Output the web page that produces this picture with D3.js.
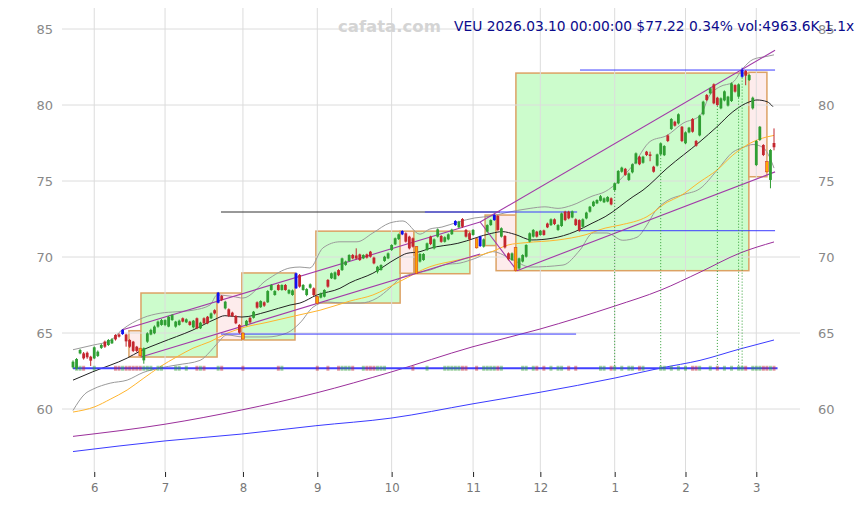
<!DOCTYPE html>
<html>
<head>
<meta charset="utf-8">
<script src="https://cdn.jsdelivr.net/npm/d3@7"></script>
<style>
  body { margin: 0; background: #fff; }
  svg { display: block; }
</style>
</head>
<body>
<div id="main"></div>
<script>
// ---- data (trading-day index 0 = first candle) ----
const open = [62.74,62.68,63.66,63.66,63.70,63.44,63.33,63.49,64.02,64.43,64.21,64.32,64.87,64.90,64.93,64.90,64.54,64.43,64.10,64.00,
63.20,64.43,64.90,64.98,65.42,65.53,65.53,65.42,65.85,65.42,65.53,65.97,65.70,65.75,65.37,65.97,65.31,65.97,66.07,65.97,
66.50,66.99,67.43,66.62,66.56,66.34,66.12,65.53,65.00,65.50,66.00,66.00,67.02,66.70,67.02,67.02,67.83,67.50,68.16,67.83,
68.16,67.60,67.50,67.94,68.82,67.83,67.50,67.98,67.94,67.39,67.33,67.39,68.49,68.60,68.55,69.14,69.14,69.48,69.74,70.13,
70.10,70.17,69.91,70.17,70.35,69.96,69.04,69.15,69.74,69.91,70.46,70.83,71.18,71.49,71.56,71.34,71.23,70.68,69.70,69.80,
70.46,71.34,70.57,71.34,71.38,71.00,71.16,71.50,72.10,71.95,72.50,71.78,71.56,71.45,71.20,70.72,70.68,71.67,72.10,72.43,
72.70,71.34,71.38,70.24,69.80,70.63,69.25,69.70,70.02,71.01,71.34,71.67,71.45,71.75,72.20,72.10,72.48,71.78,72.04,72.98,
72.98,72.60,72.48,72.43,71.99,72.54,72.98,73.35,73.53,73.70,73.60,73.65,73.86,74.41,74.85,75.61,75.80,75.07,75.57,76.16,
76.60,76.20,76.93,76.75,75.94,76.01,76.75,76.70,78.00,78.42,78.90,78.79,78.57,77.48,78.20,79.08,77.63,78.00,79.39,80.66,
80.77,81.36,80.48,79.78,80.30,79.96,80.26,81.31,80.55,81.86,82.24,81.64,79.78,76.05,77.70,77.37,76.27,75.07,77.50];
const high = [63.20,63.35,63.95,63.75,63.78,63.50,64.12,63.85,64.30,64.50,64.60,64.66,64.92,64.98,65.25,64.95,64.60,64.48,64.15,64.05,
64.05,65.05,65.28,65.50,65.82,65.92,65.90,66.12,66.25,65.80,65.88,66.02,65.96,65.80,65.86,66.02,65.74,66.03,66.12,66.35,
66.56,67.70,67.50,67.12,66.62,66.40,66.18,65.58,65.05,65.86,66.05,66.45,67.08,67.15,67.08,67.82,68.22,67.82,68.22,68.20,
68.22,67.88,67.86,68.98,68.88,68.22,67.95,68.26,68.00,67.45,67.66,67.88,68.55,68.98,69.05,69.20,69.96,69.76,70.18,70.20,
70.57,70.22,70.18,70.22,70.40,70.02,69.42,69.52,70.08,70.30,70.84,71.28,71.54,71.76,71.62,71.40,71.28,70.72,70.26,70.25,
70.95,71.40,71.22,71.88,71.44,71.36,71.55,71.86,72.42,72.38,72.56,71.84,71.62,71.84,71.26,71.40,71.22,72.15,72.48,72.82,
72.76,71.95,71.44,70.30,70.30,70.68,69.96,70.18,70.84,71.62,71.84,71.72,71.78,71.80,72.26,72.54,72.54,72.16,72.92,73.04,
73.04,73.06,72.54,72.48,72.54,72.98,73.36,73.70,73.80,74.08,73.92,74.00,73.92,74.90,75.72,75.94,75.86,75.56,76.16,76.88,
76.66,76.66,76.98,76.93,76.00,76.80,77.54,77.36,78.06,79.14,78.96,79.45,78.62,78.26,78.56,79.14,77.70,79.36,80.28,80.72,
81.16,81.42,80.54,80.50,80.96,80.60,81.48,81.36,81.42,82.45,82.30,82.02,80.55,77.70,78.62,77.42,76.32,77.10,78.46];
const low = [62.65,62.60,63.60,63.25,63.30,62.83,63.28,63.42,63.95,64.02,64.15,64.28,64.50,64.70,64.88,64.10,64.02,63.75,63.75,63.45,
62.98,64.35,64.85,64.92,65.35,65.48,65.45,65.38,65.80,65.35,65.48,65.70,65.65,65.48,65.30,65.25,65.26,65.58,65.58,65.92,
66.22,66.95,67.10,66.55,66.05,66.05,65.58,64.95,64.54,65.45,65.62,65.95,66.60,66.65,66.72,66.98,67.78,67.45,67.78,67.78,
67.78,67.55,67.45,67.90,67.98,67.78,67.42,67.92,67.42,66.90,67.28,67.34,67.98,68.55,68.50,68.74,69.08,69.42,69.68,69.85,
69.84,69.74,69.86,69.90,69.96,69.52,68.92,69.10,69.68,69.86,70.40,70.78,71.12,71.44,70.95,70.50,70.62,68.88,69.64,69.75,
70.40,70.78,70.50,71.28,70.94,70.95,71.10,71.45,72.05,71.90,71.92,71.28,71.10,71.40,70.55,70.66,70.62,71.62,72.05,72.38,
71.72,71.28,70.56,69.78,69.74,69.05,69.18,69.64,69.96,70.96,71.28,71.28,71.40,71.40,71.90,72.04,72.10,71.72,71.98,72.36,
72.48,72.55,72.04,71.66,71.94,72.48,72.92,73.30,73.48,73.65,73.55,73.60,73.40,74.35,74.80,75.55,75.34,75.00,75.50,76.10,
76.04,76.14,76.64,76.30,75.55,75.95,76.70,76.64,77.56,78.36,78.58,78.72,77.56,77.42,78.14,78.18,77.26,77.94,79.32,80.26,
80.70,80.05,79.94,79.72,80.24,79.90,80.20,80.82,80.48,81.80,81.30,81.58,79.70,75.98,77.64,76.64,75.55,74.52,77.02];
const close = [63.11,63.29,63.88,63.33,63.40,63.18,64.06,63.77,64.21,64.10,64.54,64.58,64.58,64.76,65.20,64.45,64.10,63.82,63.82,63.50,
64.00,64.98,65.20,65.42,65.75,65.85,65.85,66.07,66.18,65.75,65.81,65.75,65.90,65.53,65.81,65.31,65.68,65.64,65.64,66.29,
66.29,67.65,67.17,67.06,66.12,66.12,65.64,65.02,64.60,65.80,65.70,66.40,66.67,67.10,66.80,67.76,68.16,67.76,67.83,68.16,
67.83,67.83,67.80,68.93,68.05,68.16,67.89,68.20,67.50,66.95,67.60,67.83,68.05,68.93,68.99,68.80,69.91,69.70,70.13,69.91,
69.90,69.80,70.13,69.96,70.02,69.58,69.36,69.47,70.02,70.24,70.79,71.23,71.49,71.71,71.01,70.57,70.68,68.93,70.20,70.20,
70.90,70.85,71.16,71.82,71.00,71.30,71.49,71.80,72.37,72.32,71.99,71.34,71.16,71.78,70.60,71.34,71.16,72.10,72.43,72.76,
71.78,71.89,70.63,69.85,70.24,69.10,69.91,70.13,70.79,71.56,71.78,71.34,71.73,71.45,71.95,72.48,72.17,72.10,72.87,72.43,
72.54,73.00,72.10,71.73,72.48,72.92,73.31,73.64,73.75,74.00,73.86,73.95,73.46,74.85,75.66,75.88,75.40,75.50,76.10,76.82,
76.10,76.60,76.71,76.65,75.61,76.75,77.48,77.30,77.63,79.08,78.64,79.39,77.63,78.20,78.51,78.24,77.32,79.30,80.22,80.33,
81.10,80.11,80.00,80.44,80.90,80.55,81.42,80.88,81.36,82.30,81.93,81.97,80.48,77.63,78.57,76.71,75.60,77.04,77.22];

// candles marked blue (swing highs) and orange (swing lows)
const blueIdx = [14, 41, 63, 93, 108, 115, 119, 189];
const orangeIdx = [19, 48, 69, 97, 114, 125, 196];

// month ticks
const tickIdx = [6, 26, 48, 69, 90, 113, 132, 153, 173, 193];
const tickLabels = ['6', '7', '8', '9', '10', '11', '12', '1', '2', '3'];
const yTicks = [60, 65, 70, 75, 80, 85];

// indicator lines [index, value]
const ma20 = [[0,61.9],[5.6,62.45],[15.3,63.35],[18.9,63.8],[24.6,64.35],[33.9,65.2],[40.1,65.9],[42.9,66.14],[47.7,66.05],
  [54.8,66.4],[61.3,66.84],[64.1,66.97],[68.9,67.5],[75.4,67.94],[78.2,68.3],[84.7,68.93],[91.5,69.92],[94.3,70.24],[98,70.35],
  [100.8,70.57],[108.7,70.9],[118.3,71.56],[121.2,71.67],[124.8,71.49],[129.6,71.12],[135.3,71.23],[141.8,71.67],[146.6,72.22],
  [150.3,72.65],[158.2,73.97],[161,74.4],[167.8,75.84],[177.1,77.59],[181.9,78.57],[186.4,79.56],[191.2,80.22],[193.2,80.33],
  [196,80.22],[197.7,79.89]];
const ma60 = [[0,59.8],[6.2,60.15],[10.5,60.64],[15.3,61.25],[19.8,62.0],[24.6,62.78],[29.4,63.44],[33.9,64.0],[38.7,64.43],
  [43.5,64.98],[48,65.35],[54.8,65.7],[64.1,66.2],[69.8,66.5],[78.2,67.1],[84.7,67.5],[92.4,68.4],[100.8,69.36],[108.7,69.8],
  [118.3,70.35],[122.9,70.79],[127.7,70.94],[137,71.12],[144.6,71.45],[150.3,71.9],[154.5,72.1],[162.1,72.65],[167.8,73.6],
  [171.4,74.0],[177.1,74.95],[181.9,75.72],[186.4,76.71],[191.2,77.48],[196,77.9],[198,78.0]];
const bandUp = [[0,63.9],[5.6,64.2],[10.5,64.5],[13.8,65.2],[19.8,66.0],[24.6,66.3],[29.4,66.4],[33.9,66.5],[38.7,66.84],
  [40.7,67.5],[45.2,67.4],[48,67.3],[54.8,68.5],[61.3,69.28],[64.1,69.34],[66.9,69.28],[70.6,70.6],[75.4,71.0],[80.2,71.0],
  [84.7,71.58],[89.5,72.24],[93.2,72.37],[98,71.5],[100.8,71.84],[104.2,71.97],[108.7,72.3],[113.5,72.57],[118.3,72.7],
  [122,72.9],[129.1,73.2],[133.3,73.3],[137,73.2],[140.9,73.4],[146.6,74.0],[150.3,74.3],[158.2,76.05],[163,77.6],[167.8,78.0],
  [172.3,78.8],[177.1,79.3],[179.9,80.66],[182.7,81.2],[186.4,81.5],[189.2,82.4],[192.1,83.0],[196,83.2],[198,83.3]];
const bandLow = [[0,59.9],[3.4,61.0],[5.6,61.3],[10.5,61.7],[15.3,61.9],[19.8,62.4],[24.6,62.7],[29.4,62.9],[35.9,63.2],
  [38.7,63.77],[40.7,64.3],[43.5,64.87],[48,64.74],[54.8,64.74],[60.4,65.0],[64.1,65.66],[67.8,66.7],[71.8,67.04],[76.3,66.97],
  [81.1,66.97],[85.9,67.3],[89.5,67.96],[92.4,68.6],[94.3,68.8],[97.1,68.95],[100.8,69.14],[105.1,69.5],[109.3,69.6],
  [113.5,69.9],[118.6,70.35],[124.3,69.8],[129.1,69.34],[138.4,69.47],[143.2,70.46],[146.9,71.58],[150.8,71.58],[155.3,71.1],
  [159.3,71.3],[162.1,72.1],[164.4,73.0],[167.8,73.7],[172.3,74.1],[177.1,74.5],[181.9,75.7],[186.4,76.9],[189.2,77.2],
  [192.1,77.4],[194.9,77.2],[196.9,76.5],[198,75.85]];
const ma120 = [[0,58.2],[26,59.0],[47.5,59.93],[68.6,61.05],[89.8,62.43],[112.7,64.08],[131.9,65.26],[153.1,66.78],
  [166.1,67.83],[177.1,69.0],[188.4,70.26],[198,70.99]];
const ma250 = [[0,57.2],[26,57.9],[47.5,58.35],[68.6,58.9],[89.8,59.4],[112.7,60.33],[131.9,61.1],[153.1,62.04],
  [166.1,62.7],[177.1,63.2],[188.4,63.95],[198,64.54]];

// channel segments [i1, v1, i2, v2]
const channels = [[13.8,65.2,115,72.3],[19.2,63.42,115,70.2],[115,72.3,125.4,69.1],[115,72.3,198.3,83.6],[125.4,69.1,198.3,75.6]];

// swing boxes [i1, i2, top, bottom, kind]
const boxes = [[15.8,19.2,65.15,63.42,'dn'],[19.2,40.7,67.63,63.42,'up'],[40.7,47.7,67.63,64.54,'dn'],[47.7,62.7,68.95,64.54,'up'],
  [68.6,92.4,71.7,66.97,'up'],[92.4,96.3,71.7,68.93,'dn'],[96.3,112.1,71.7,68.9,'up'],[116.4,119.5,72.76,70.75,'up'],
  [119.5,125.1,72.76,69.1,'dn'],[125.1,190.9,82.1,69.1,'up'],[190.9,196,82.15,75.28,'dn']];

// level lines [value, i1, i2, colour]
const levels = [[64.93,41.8,142.1,'#3b3bff'],[72.96,41.8,120.6,'#333'],[72.96,99.4,142.4,'#3b3bff'],
  [71.73,142.9,198.3,'#3b3bff'],[82.3,143.2,198.3,'#3b3bff']];
const baseLevel = 62.68;

// signal candles (dotted green verticals)
const signalIdx = [153, 166, 182, 188, 189];

// candles with a volume tick on the base line
const volIdx = [1,2,3,6,12,13,14,15,16,17,18,19,20,21,22,24,25,29,30,32,35,36,37,41,42,48,58,59,69,72,75,76,77,78,79,
  82,83,84,85,86,87,88,96,100,105,106,107,108,109,110,111,114,116,117,118,119,120,121,127,128,130,131,133,135,137,138,
  140,142,149,150,152,153,155,157,158,160,161,166,167,169,171,173,175,176,177,180,182,184,186,188,189,190,192,193,194,
  195,196,197,198];

// ---- drawing ----
const W = 864, H = 505;
const svg = d3.select('#main').append('svg').attr('width', W).attr('height', H);

const xS = d3.scaleLinear().domain([0, 198]).range([73, 774]);
const yS = d3.scaleLinear().domain([60, 85]).range([409, 29]);

const green = '#2f9e33', red = '#c4262e';

// boxes
svg.append('g').selectAll('rect').data(boxes).enter().append('rect')
  .attr('x', d => xS(d[0])).attr('y', d => yS(d[2]))
  .attr('width', d => xS(d[1]) - xS(d[0])).attr('height', d => yS(d[3]) - yS(d[2]))
  .attr('fill', d => d[4] == 'up' ? '#ccfccc' : '#fdecec')
  .attr('stroke', '#dca264').attr('stroke-width', 1.5);

// grid
const grid = svg.append('g');
grid.selectAll('.hg').data(yTicks).enter().append('line')
  .attr('x1', 62).attr('x2', 800)
  .attr('y1', d => yS(d)).attr('y2', d => yS(d))
  .attr('stroke', '#dcdcdc').attr('stroke-width', 1);
grid.selectAll('.vg').data(tickIdx).enter().append('line')
  .attr('x1', d => xS(d)).attr('x2', d => xS(d))
  .attr('y1', 8).attr('y2', 472)
  .attr('stroke', '#dcdcdc').attr('stroke-width', 1);

// axes
const xAxis = d3.axisBottom(xS).tickValues(tickIdx).tickFormat((d, i) => tickLabels[i]).tickSize(5).tickPadding(6);
const gx = svg.append('g').attr('transform', 'translate(0,472)').call(xAxis);
gx.select('.domain').remove();
gx.selectAll('line').attr('stroke', '#222');
gx.selectAll('text').attr('fill', '#777').style('font', '13px "DejaVu Sans Condensed", "DejaVu Sans"');

const yL = svg.append('g').attr('transform', 'translate(62,0)')
  .call(d3.axisLeft(yS).tickValues(yTicks).tickSize(0).tickPadding(9));
const yR = svg.append('g').attr('transform', 'translate(808,0)')
  .call(d3.axisRight(yS).tickValues(yTicks).tickSize(0).tickPadding(10));
[yL, yR].forEach(g => {
  g.select('.domain').remove();
  g.selectAll('text').attr('fill', '#888').style('font', '13px "DejaVu Sans"');
});

// lines
const line = d3.line().x(d => xS(d[0])).y(d => yS(d[1])).curve(d3.curveMonotoneX);
const drawLine = (data, col, w) => svg.append('path').datum(data).attr('d', line)
  .attr('fill', 'none').attr('stroke', col).attr('stroke-width', w);

drawLine(ma250, '#3b3bff', 1);
drawLine(ma120, '#9b2f9b', 1);
drawLine(bandUp, '#9a9a9a', 1);
drawLine(bandLow, '#9a9a9a', 1);
drawLine(ma60, '#ffb52e', 1);
drawLine(ma20, '#222', 1);

// level lines
svg.append('g').selectAll('line').data(levels).enter().append('line')
  .attr('x1', d => xS(d[1])).attr('x2', d => xS(d[2]))
  .attr('y1', d => yS(d[0])).attr('y2', d => yS(d[0]))
  .attr('stroke', d => d[3]).attr('stroke-width', 1);

// channels
svg.append('g').selectAll('line').data(channels).enter().append('line')
  .attr('x1', d => xS(d[0])).attr('y1', d => yS(d[1]))
  .attr('x2', d => xS(d[2])).attr('y2', d => yS(d[3]))
  .attr('stroke', '#a23aa8').attr('stroke-width', 1.1);

// base line with volume ticks
svg.append('line')
  .attr('x1', xS(0)).attr('x2', xS(199))
  .attr('y1', yS(baseLevel)).attr('y2', yS(baseLevel))
  .attr('stroke', '#4040ff').attr('stroke-width', 2);
svg.append('g').selectAll('rect').data(volIdx).enter().append('rect')
  .attr('x', d => xS(d) - 1.5).attr('y', yS(baseLevel) - 2.5)
  .attr('width', 3).attr('height', 5)
  .attr('fill', d => close[d] >= open[d] ? green : red).attr('opacity', 0.45);

// signal verticals
svg.append('g').selectAll('line').data(signalIdx).enter().append('line')
  .attr('x1', d => xS(d)).attr('x2', d => xS(d))
  .attr('y1', d => yS(low[d])).attr('y2', yS(baseLevel))
  .attr('stroke', green).attr('stroke-width', 1).attr('stroke-dasharray', '1,2');

// candles
const candleCol = i => blueIdx.includes(i) ? '#1010f0' : orangeIdx.includes(i) ? '#ffa500' : (close[i] >= open[i] ? green : red);
const cg = svg.append('g');
const idx = d3.range(close.length);
cg.selectAll('.wick').data(idx).enter().append('line')
  .attr('x1', i => xS(i)).attr('x2', i => xS(i))
  .attr('y1', i => yS(high[i])).attr('y2', i => yS(low[i]))
  .attr('stroke', candleCol).attr('stroke-width', 1);
cg.selectAll('.body').data(idx).enter().append('rect')
  .attr('x', i => xS(i) - 1.4).attr('width', 2.8)
  .attr('y', i => yS(Math.max(open[i], close[i])))
  .attr('height', i => Math.max(1, Math.abs(yS(open[i]) - yS(close[i]))))
  .attr('fill', candleCol)
  .attr('stroke', i => orangeIdx.includes(i) ? red : 'none').attr('stroke-width', 0.5);

// watermark and title
svg.append('text').attr('x', 338).attr('y', 32).text('cafata.com')
  .attr('fill', '#d4d4d4').style('font', 'bold 16.5px "DejaVu Sans"');
svg.append('text').attr('x', 454).attr('y', 31).text('VEU 2026.03.10 00:00:00 $77.22 0.34% vol:4963.6K 1.1x')
  .attr('fill', '#0b0b8c').style('font', '13.8px "DejaVu Sans"');
</script>
</body>
</html>
